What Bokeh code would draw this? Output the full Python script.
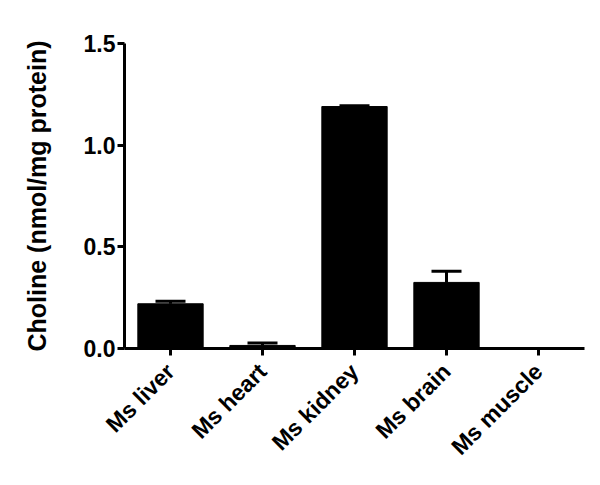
from math import pi
from bokeh.plotting import figure
from bokeh.models import (FactorRange, Range1d, FixedTicker, PrintfTickFormatter,
                          ColumnDataSource, Whisker, TeeHead)
from bokeh.embed import file_html
from bokeh.resources import INLINE

categories = ["Ms liver", "Ms heart", "Ms kidney", "Ms brain", "Ms muscle"]
values = [0.22, 0.015, 1.19, 0.325, 0.0]
errors = [0.012, 0.012, 0.004, 0.055, 0.0]
y_ticks = [0.0, 0.5, 1.0, 1.5]

FONT = "Liberation Sans"

upper = [v + e for v, e in zip(values, errors)]
src = ColumnDataSource(data=dict(cat=categories, val=values, upper=upper))

p = figure(width=600, height=485, output_backend="svg", toolbar_location=None,
           x_range=FactorRange(factors=categories, range_padding=0),
           y_range=Range1d(0, 1.5),
           min_border_left=124, min_border_right=16, min_border_top=43,
           min_border_bottom=137)
p.outline_line_color = None
p.xgrid.grid_line_color = None
p.ygrid.grid_line_color = None
p.background_fill_color = "white"
p.border_fill_color = "white"

p.vbar(x="cat", top="val", bottom=0, width=0.71, source=src,
       fill_color="black", line_color="black", line_width=1)

w = Whisker(base="cat", lower="val", upper="upper", source=src,
            line_color="black", line_width=3,
            upper_head=TeeHead(size=30, line_color="black", line_width=3),
            lower_head=None)
p.add_layout(w)

for ax in (p.xaxis[0], p.yaxis[0]):
    ax.axis_line_width = 3
    ax.axis_line_color = "black"
    ax.major_tick_line_width = 3
    ax.major_tick_line_color = "black"
    ax.major_tick_out = 7
    ax.major_tick_in = 0
    ax.minor_tick_line_color = None
    ax.major_label_text_font = FONT
    ax.major_label_text_font_style = "bold"
    ax.major_label_text_font_size = "23px"
    ax.major_label_text_color = "black"

p.yaxis.ticker = FixedTicker(ticks=y_ticks)
p.yaxis.formatter = PrintfTickFormatter(format="%.1f")
p.yaxis.major_label_standoff = 2
p.yaxis.axis_label = "Choline (nmol/mg protein)"
p.yaxis.axis_label_text_font = FONT
p.yaxis.axis_label_text_font_style = "bold"
p.yaxis.axis_label_text_font_size = "25px"
p.yaxis.axis_label_text_color = "black"
p.yaxis.axis_label_standoff = 30

p.xaxis.major_label_orientation = pi / 4
p.xaxis.major_label_standoff = 12

open("out.html", "w").write(file_html(p, INLINE))
